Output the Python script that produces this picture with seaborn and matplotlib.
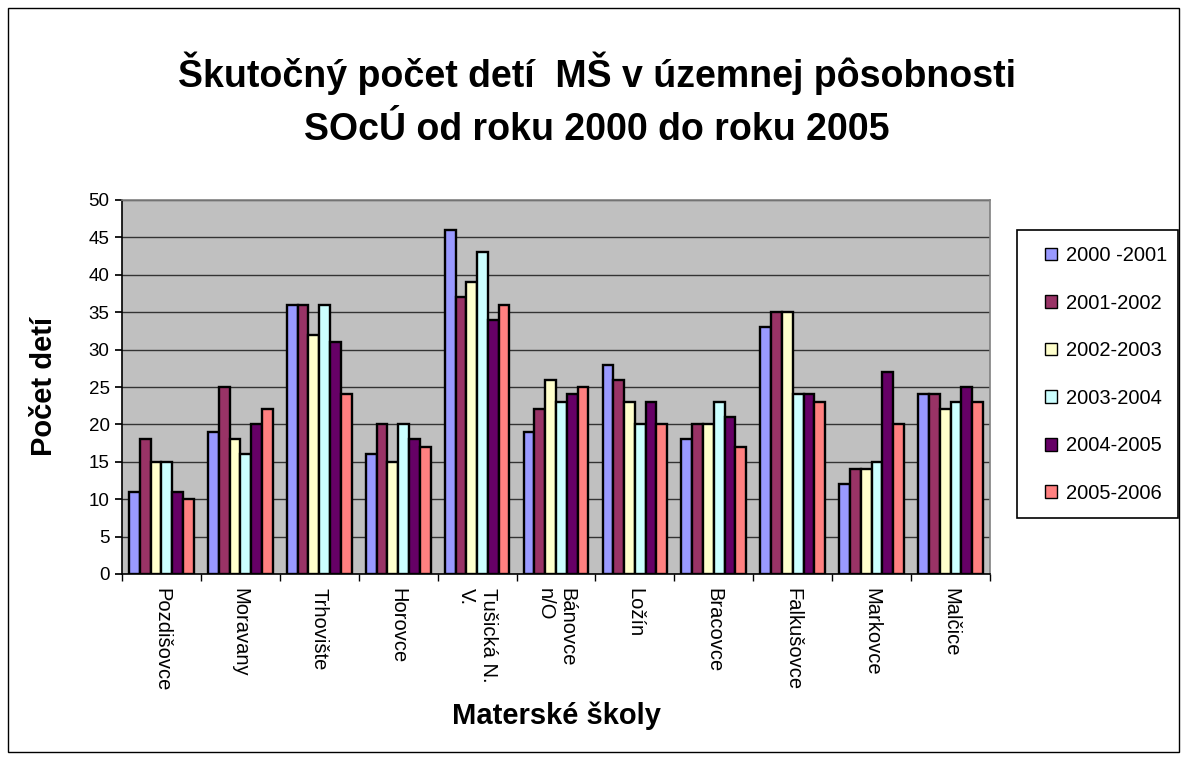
import numpy as np
import pandas as pd
import matplotlib
matplotlib.use("Agg")
import matplotlib.pyplot as plt
from matplotlib.patches import Rectangle, Patch
import seaborn as sns

categories = ["Pozdišovce", "Moravany", "Trhovište", "Horovce", "Tušická N.\nV.",
              "Bánovce\nn/O", "Ložín", "Bracovce", "Falkušovce", "Markovce", "Malčice"]
series = ["2000 -2001", "2001-2002", "2002-2003", "2003-2004", "2004-2005", "2005-2006"]
v2000 = [11, 19, 36, 16, 46, 19, 28, 18, 33, 12, 24]
v2001 = [18, 25, 36, 20, 37, 22, 26, 20, 35, 14, 24]
v2002 = [15, 18, 32, 15, 39, 26, 23, 20, 35, 14, 22]
v2003 = [15, 16, 36, 20, 43, 23, 20, 23, 24, 15, 23]
v2004 = [11, 20, 31, 18, 34, 24, 23, 21, 24, 27, 25]
v2005 = [10, 22, 24, 17, 36, 25, 20, 17, 23, 20, 23]
colors = ["#9999FF", "#993366", "#FFFFCC", "#CCFFFF", "#660066", "#FF8080"]

values = [v2000, v2001, v2002, v2003, v2004, v2005]
rows = []
for s, vals in zip(series, values):
    for c, v in zip(categories, vals):
        rows.append({"cat": c, "series": s, "val": v})
df = pd.DataFrame(rows)

sns.set_theme(style="white", rc={"text.color": "black", "axes.labelcolor": "black",
                                 "xtick.color": "black", "ytick.color": "black"})
plt.rcParams["font.family"] = ["Liberation Sans", "DejaVu Sans"]

W, H = 1187, 760
fig = plt.figure(figsize=(W/100, H/100), dpi=100)
fig.patch.set_facecolor("white")
ax = fig.add_axes([122/W, 1-574/H, (990-122)/W, (574-200)/H])
ax.set_facecolor("#C0C0C0")

sns.barplot(data=df, x="cat", y="val", hue="series", order=categories,
            hue_order=series, palette=colors, width=0.82, ax=ax,
            edgecolor="black", linewidth=1.7, saturation=1, legend=False, zorder=3)

ax.set_ylim(0, 50)
ax.set_xlim(-0.5, len(categories) - 0.5)
ax.set_yticks(np.arange(0, 51, 5))
ax.yaxis.grid(True, color="#333333", linewidth=1.0, zorder=1)
ax.set_axisbelow(True)
ax.tick_params(axis="y", labelsize=13.5, length=5, direction="out", color="black",
               left=True, pad=4)
ax.set_xticks(range(len(categories)))
ax.set_xticklabels(categories, rotation=270, fontsize=14.5, va="top", ha="center",
                   multialignment="left")
ax.tick_params(axis="x", length=0, pad=10)
ax.set_xticks(np.arange(-0.5, len(categories), 1), minor=True)
ax.tick_params(axis="x", which="minor", length=5, direction="out", color="black", bottom=True)
for side in ["top", "right"]:
    ax.spines[side].set_color("#808080")
    ax.spines[side].set_linewidth(1.2)
for side in ["left", "bottom"]:
    ax.spines[side].set_color("black")
    ax.spines[side].set_linewidth(1.2)

ax.set_ylabel("Počet detí", fontsize=21, fontweight="bold")
ax.yaxis.set_label_coords((58-122)/868, 0.5)
ax.set_xlabel("Materské školy", fontsize=21, fontweight="bold")
ax.xaxis.set_label_coords(0.5, -(702-574)/374)

fig.text(597/W, 1-100/H, "Škutočný počet detí  MŠ v územnej pôsobnosti\nSOcÚ od roku 2000 do roku 2005",
         ha="center", va="center", fontsize=27, fontweight="bold", linespacing=1.6)

handles = [Patch(facecolor=c, edgecolor="black", linewidth=1.0) for c in colors]
leg = fig.legend(handles, series, loc="upper left",
                 bbox_to_anchor=(1045/W, 1-246/H), frameon=False, fontsize=14.5,
                 labelspacing=1.42, handlelength=0.6, handleheight=0.6, handletextpad=0.45,
                 borderpad=0, borderaxespad=0)

fig.patches.append(Rectangle((1017/W, 1-518/H), (1178-1017)/W, (518-230)/H,
                             transform=fig.transFigure, fill=False, edgecolor="black",
                             linewidth=1.2, zorder=5))
fig.patches.append(Rectangle((8/W, 8/H), 1-16/W, 1-16/H, transform=fig.transFigure,
                             fill=False, edgecolor="black", linewidth=1.0))

fig.savefig("out.png", dpi=100)
